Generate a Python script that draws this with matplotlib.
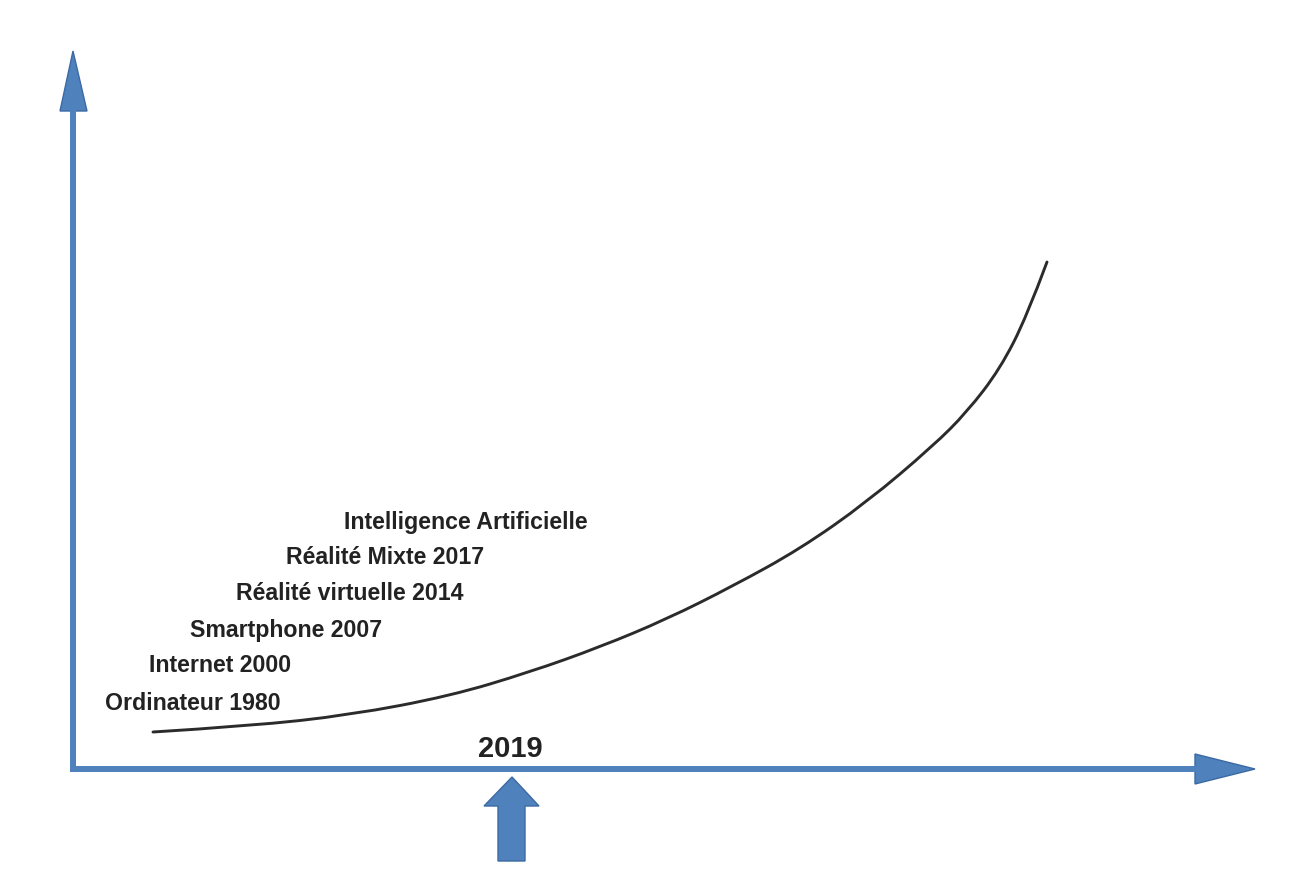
import matplotlib.pyplot as plt
from matplotlib.patches import Polygon, PathPatch
from matplotlib.path import Path

# milestones shown next to the curve
labels = ['Intelligence Artificielle', 'Réalité Mixte 2017', 'Réalité virtuelle 2014',
          'Smartphone 2007', 'Internet 2000', 'Ordinateur 1980']
label_x = [344, 286, 236, 190, 149, 105]
label_y = [522, 557, 594, 631, 666, 703]

# growth curve (pixel coords)
curve_x = [153, 250, 350, 450, 530, 600, 667, 733, 800, 867, 933, 967, 1000, 1027, 1047]
curve_y = [733, 727, 716, 697, 673, 648, 620, 587, 550, 503, 447, 413, 370, 317, 263]

marker_label = '2019'
marker_x = 512

blue = '#4f81bd'
edge = '#3b6aa3'

fig = plt.figure(figsize=(13.04, 8.95), dpi=100)
ax = fig.add_axes([0, 0, 1, 1])
ax.set_xlim(0, 1304)
ax.set_ylim(895, 0)
ax.axis('off')

# axes lines
ax.plot([73, 73], [773, 110], color=blue, lw=4.3, solid_capstyle='butt')
ax.plot([70, 1197], [770, 770], color=blue, lw=4.3, solid_capstyle='butt')
ax.add_patch(Polygon([[73, 52], [60, 112], [87, 112]], closed=True, fc=blue, ec=edge, lw=1))
ax.add_patch(Polygon([[1255, 770], [1195, 755], [1195, 785]], closed=True, fc=blue, ec=edge, lw=1))

# smooth curve: quadratic segments with the read points as control points
pts = list(zip(curve_x, curve_y))
verts = [pts[0]]
codes = [Path.MOVETO]
for i in range(1, len(pts) - 1):
    mid = ((pts[i][0] + pts[i + 1][0]) / 2, (pts[i][1] + pts[i + 1][1]) / 2)
    if i == len(pts) - 2:
        mid = pts[-1]
    verts += [pts[i], mid]
    codes += [Path.CURVE3, Path.CURVE3]
ax.add_patch(PathPatch(Path(verts, codes), fc='none', ec='#2b2b2b', lw=2.1, capstyle='round'))

for t, x, y in zip(labels, label_x, label_y):
    ax.text(x, y, t, ha='left', va='center', fontsize=16.7, fontweight='bold',
            family='Liberation Sans', color='#222222')

# 2019 marker
ax.text(marker_x - 2, 749, marker_label, ha='center', va='center', fontsize=21,
        fontweight='bold', family='Liberation Sans', color='#222222')
arrow = [[marker_x, 778], [marker_x + 27, 807], [marker_x + 13, 807], [marker_x + 13, 862],
         [marker_x - 14, 862], [marker_x - 14, 807], [marker_x - 28, 807]]
ax.add_patch(Polygon(arrow, closed=True, fc=blue, ec=edge, lw=1))

fig.savefig('out.png', dpi=100, facecolor='white')
